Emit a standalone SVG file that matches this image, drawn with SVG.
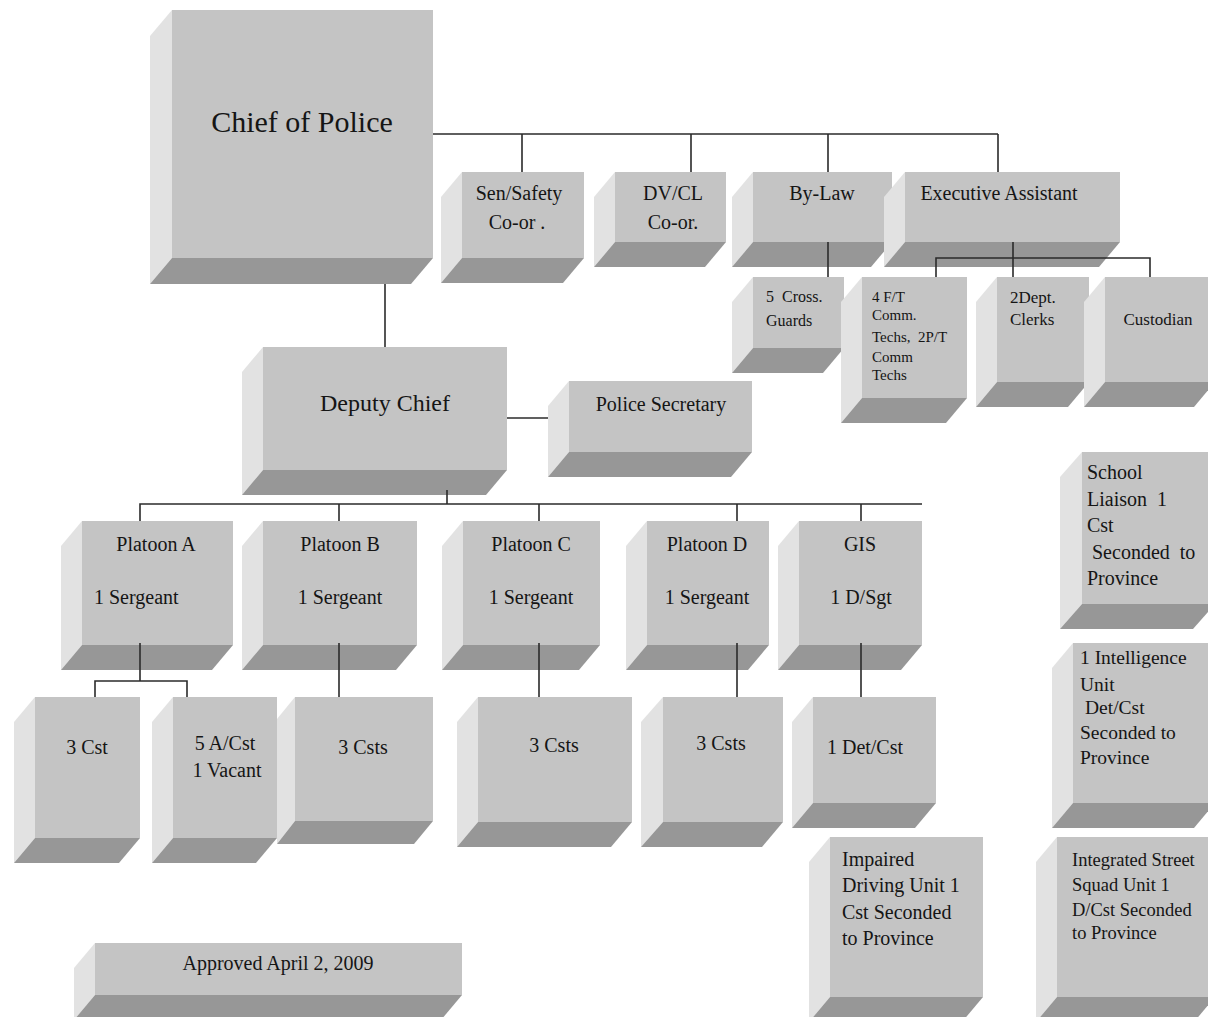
<svg xmlns="http://www.w3.org/2000/svg" width="1208" height="1017" viewBox="0 0 1208 1017">
<style>
.f{fill:#c4c4c4}
.l{fill:#e2e2e2}
.b{fill:#979797}
text{font-family:"Liberation Serif","Times New Roman",serif;fill:#151515}
.c{text-anchor:middle}
.s20{font-size:20px}
.s19{font-size:19.5px}
.s18{font-size:18.5px}
.s17{font-size:17px}
.s16{font-size:16px}
.s15{font-size:15px}
.ln{stroke:#2b2b2b;stroke-width:1.6;fill:none}
</style>
<rect width="1208" height="1017" fill="#ffffff"/>

<g id="chief">
<polygon class="l" points="150,36 172,10 172,258 150,284"/>
<polygon class="b" points="172,258 433,258 411,284 150,284"/>
<rect class="f" x="172" y="10" width="261" height="248"/>
<text class="c" x="302" y="132" font-size="30">Chief of Police</text>
</g>

<g id="sen-safety">
<polygon class="l" points="441,197 462,172 462,258 441,283"/>
<polygon class="b" points="462,258 584,258 563,283 441,283"/>
<rect class="f" x="462" y="172" width="122" height="86"/>
<text class="c s20" x="519" y="200">Sen/Safety</text>
<text class="c s20" x="517" y="229">Co-or .</text>
</g>

<g id="dvcl">
<polygon class="l" points="594,197 615,172 615,242 594,267"/>
<polygon class="b" points="615,242 726,242 705,267 594,267"/>
<rect class="f" x="615" y="172" width="111" height="70"/>
<text class="c s20" x="673" y="200">DV/CL</text>
<text class="c s20" x="673" y="229">Co-or.</text>
</g>

<g id="bylaw">
<polygon class="l" points="732,197 753,172 753,242 732,267"/>
<polygon class="b" points="753,242 892,242 871,267 732,267"/>
<rect class="f" x="753" y="172" width="139" height="70"/>
<text class="c s20" x="822" y="200">By-Law</text>
</g>

<g id="exec-assistant">
<polygon class="l" points="884,197 905,172 905,242 884,267"/>
<polygon class="b" points="905,242 1120,242 1099,267 884,267"/>
<rect class="f" x="905" y="172" width="215" height="70"/>
<text class="c s20" x="999" y="200">Executive Assistant</text>
</g>

<g id="cross-guards">
<polygon class="l" points="732,302 753,277 753,348 732,373"/>
<polygon class="b" points="753,348 844,348 823,373 732,373"/>
<rect class="f" x="753" y="277" width="91" height="71"/>
<text class="s16" x="766" y="302" xml:space="preserve">5  Cross.</text>
<text class="s16" x="766" y="326">Guards</text>
</g>

<g id="comm-techs">
<polygon class="l" points="841,302 862,277 862,398 841,423"/>
<polygon class="b" points="862,398 967,398 946,423 841,423"/>
<rect class="f" x="862" y="277" width="105" height="121"/>
<text class="s15" x="872" y="302">4 F/T</text>
<text class="s15" x="872" y="320">Comm.</text>
<text class="s15" x="872" y="342" xml:space="preserve">Techs,  2P/T</text>
<text class="s15" x="872" y="362">Comm</text>
<text class="s15" x="872" y="380">Techs</text>
</g>

<g id="dept-clerks">
<polygon class="l" points="976,302 997,277 997,382 976,407"/>
<polygon class="b" points="997,382 1089,382 1068,407 976,407"/>
<rect class="f" x="997" y="277" width="92" height="105"/>
<text class="s17" x="1010" y="303">2Dept.</text>
<text class="s17" x="1010" y="325">Clerks</text>
</g>

<g id="custodian">
<polygon class="l" points="1084,302 1105,277 1105,382 1084,407"/>
<polygon class="b" points="1105,382 1215,382 1194,407 1084,407"/>
<rect class="f" x="1105" y="277" width="110" height="105"/>
<text class="c s17" x="1158" y="325">Custodian</text>
</g>

<g id="deputy-chief">
<polygon class="l" points="242,372 263,347 263,470 242,495"/>
<polygon class="b" points="263,470 507,470 486,495 242,495"/>
<rect class="f" x="263" y="347" width="244" height="123"/>
<text class="c" x="385" y="411" font-size="24">Deputy Chief</text>
</g>

<g id="police-secretary">
<polygon class="l" points="548,406 569,381 569,452 548,477"/>
<polygon class="b" points="569,452 752,452 731,477 548,477"/>
<rect class="f" x="569" y="381" width="183" height="71"/>
<text class="c s20" x="661" y="411">Police Secretary</text>
</g>

<g id="platoon-a">
<polygon class="l" points="61,546 82,521 82,645 61,670"/>
<polygon class="b" points="82,645 233,645 212,670 61,670"/>
<rect class="f" x="82" y="521" width="151" height="124"/>
<text class="c s20" x="156" y="551">Platoon A</text>
<text class="s20" x="94" y="604">1 Sergeant</text>
</g>

<g id="platoon-b">
<polygon class="l" points="242,546 263,521 263,645 242,670"/>
<polygon class="b" points="263,645 417,645 396,670 242,670"/>
<rect class="f" x="263" y="521" width="154" height="124"/>
<text class="c s20" x="340" y="551">Platoon B</text>
<text class="c s20" x="340" y="604">1 Sergeant</text>
</g>

<g id="platoon-c">
<polygon class="l" points="442,546 463,521 463,645 442,670"/>
<polygon class="b" points="463,645 600,645 579,670 442,670"/>
<rect class="f" x="463" y="521" width="137" height="124"/>
<text class="c s20" x="531" y="551">Platoon C</text>
<text class="c s20" x="531" y="604">1 Sergeant</text>
</g>

<g id="platoon-d">
<polygon class="l" points="626,546 647,521 647,645 626,670"/>
<polygon class="b" points="647,645 769,645 748,670 626,670"/>
<rect class="f" x="647" y="521" width="122" height="124"/>
<text class="c s20" x="707" y="551">Platoon D</text>
<text class="c s20" x="707" y="604">1 Sergeant</text>
</g>

<g id="gis">
<polygon class="l" points="778,546 799,521 799,645 778,670"/>
<polygon class="b" points="799,645 922,645 901,670 778,670"/>
<rect class="f" x="799" y="521" width="123" height="124"/>
<text class="c s20" x="860" y="551">GIS</text>
<text class="c s20" x="861" y="604">1 D/Sgt</text>
</g>

<g id="a-3cst">
<polygon class="l" points="14,722 35,697 35,838 14,863"/>
<polygon class="b" points="35,838 140,838 119,863 14,863"/>
<rect class="f" x="35" y="697" width="105" height="141"/>
<text class="c s20" x="87" y="754">3 Cst</text>
</g>

<g id="a-5acst">
<polygon class="l" points="152,722 173,697 173,838 152,863"/>
<polygon class="b" points="173,838 277,838 256,863 152,863"/>
<rect class="f" x="173" y="697" width="104" height="141"/>
<text class="c s20" x="225" y="750">5 A/Cst</text>
<text class="c s20" x="227" y="777">1 Vacant</text>
</g>

<g id="b-3csts">
<polygon class="l" points="277,719 295,697 295,821 277,844"/>
<polygon class="b" points="295,821 433,821 414,844 277,844"/>
<rect class="f" x="295" y="697" width="138" height="124"/>
<text class="c s20" x="363" y="754">3 Csts</text>
</g>

<g id="c-3csts">
<polygon class="l" points="457,722 478,697 478,822 457,847"/>
<polygon class="b" points="478,822 632,822 611,847 457,847"/>
<rect class="f" x="478" y="697" width="154" height="125"/>
<text class="c s20" x="554" y="752">3 Csts</text>
</g>

<g id="d-3csts">
<polygon class="l" points="641,722 663,697 663,822 641,847"/>
<polygon class="b" points="663,822 783,822 762,847 641,847"/>
<rect class="f" x="663" y="697" width="120" height="125"/>
<text class="c s20" x="721" y="750">3 Csts</text>
</g>

<g id="gis-detcst">
<polygon class="l" points="792,722 813,697 813,803 792,828"/>
<polygon class="b" points="813,803 936,803 915,828 792,828"/>
<rect class="f" x="813" y="697" width="123" height="106"/>
<text class="c s20" x="865" y="754">1 Det/Cst</text>
</g>

<g id="school-liaison">
<polygon class="l" points="1060,477 1082,452 1082,604 1060,629"/>
<polygon class="b" points="1082,604 1215,604 1193,629 1060,629"/>
<rect class="f" x="1082" y="452" width="133" height="152"/>
<text class="s20" x="1087" y="479">School</text>
<text class="s20" x="1087" y="506" xml:space="preserve">Liaison  1</text>
<text class="s20" x="1087" y="532">Cst</text>
<text class="s20" x="1092" y="559" xml:space="preserve">Seconded  to</text>
<text class="s20" x="1087" y="585">Province</text>
</g>

<g id="intelligence-unit">
<polygon class="l" points="1052,668 1073,643 1073,803 1052,828"/>
<polygon class="b" points="1073,803 1215,803 1194,828 1052,828"/>
<rect class="f" x="1073" y="643" width="142" height="160"/>
<text class="s19" x="1080" y="664">1 Intelligence</text>
<text class="s19" x="1080" y="691">Unit</text>
<text class="s19" x="1085" y="714">Det/Cst</text>
<text class="s19" x="1080" y="739">Seconded to</text>
<text class="s19" x="1080" y="764">Province</text>
</g>

<g id="impaired-driving">
<polygon class="l" points="809,862 830,837 830,997 809,1022"/>
<polygon class="b" points="830,997 983,997 962,1022 809,1022"/>
<rect class="f" x="830" y="837" width="153" height="160"/>
<text class="s20" x="842" y="866">Impaired</text>
<text class="s20" x="842" y="892">Driving Unit 1</text>
<text class="s20" x="842" y="919">Cst Seconded</text>
<text class="s20" x="842" y="945">to Province</text>
</g>

<g id="integrated-street">
<polygon class="l" points="1036,862 1057,837 1057,997 1036,1022"/>
<polygon class="b" points="1057,997 1215,997 1194,1022 1036,1022"/>
<rect class="f" x="1057" y="837" width="158" height="160"/>
<text class="s18" x="1072" y="866">Integrated Street</text>
<text class="s18" x="1072" y="891">Squad Unit 1</text>
<text class="s18" x="1072" y="916">D/Cst Seconded</text>
<text class="s18" x="1072" y="939">to Province</text>
</g>

<g id="approved">
<polygon class="l" points="74,968 95,943 95,995 74,1020"/>
<polygon class="b" points="95,995 462,995 441,1020 74,1020"/>
<rect class="f" x="95" y="943" width="367" height="52"/>
<text class="c s20" x="278" y="970">Approved April 2, 2009</text>
</g>

<g id="connectors" class="ln">
<path d="M433,134 H998 M522,134 V172 M691,134 V172 M828,134 V172 M998,134 V172"/>
<path d="M385,284 V347"/>
<path d="M828,242 V277"/>
<path d="M1013,242 V277 M936,277 V258 H1150 V277"/>
<path d="M507,418 H548"/>
<path d="M447,490 V504 M140,521 V504 H922 M339,504 V521 M539,504 V521 M737,504 V521 M861,504 V521"/>
<path d="M140,643 V681 M95,697 V681 H187 V697"/>
<path d="M339,643 V697 M539,643 V697 M737,643 V697 M861,643 V697"/>
</g>
</svg>
